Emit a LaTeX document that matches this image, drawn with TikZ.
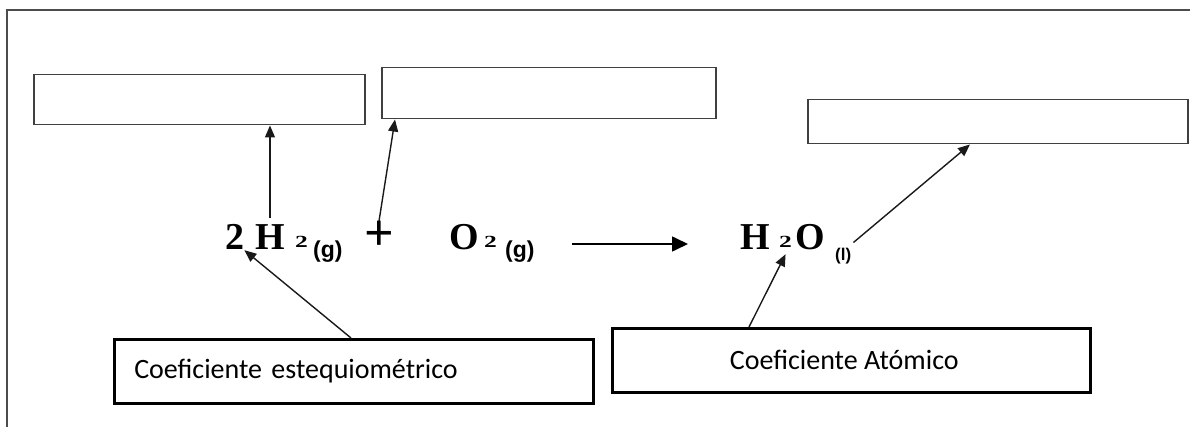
\documentclass[tikz,border=0pt]{standalone}
\usepackage{fontspec}
\setmainfont{Liberation Serif}
\newfontfamily\carlitofont{Carlito}
\newfontfamily\arialfont{Liberation Sans}
\usetikzlibrary{arrows.meta}
\begin{document}
\begin{tikzpicture}[x=1pt,y=-1pt,
  topbox/.style={draw=black!75, line width=1.5pt, inner sep=0, anchor=north west},
  lblbox/.style={draw=black, line width=2.5pt, anchor=north west, font=\carlitofont\fontsize{28}{32}\selectfont},
  big/.style={font=\bfseries\fontsize{38}{42}\selectfont, inner sep=0, anchor=base west},
  sub/.style={font=\bfseries\fontsize{17}{20}\selectfont, inner sep=0, anchor=base west},
  phase/.style={font=\arialfont\bfseries\fontsize{23}{26}\selectfont, inner sep=0, anchor=base west},
  phasesm/.style={font=\arialfont\bfseries\fontsize{17}{19}\selectfont, inner sep=0, anchor=base west},
  plusf/.style={font=\bfseries\fontsize{52}{60}\selectfont, inner sep=0},
  arr/.style={line width=1.4pt, draw=black!90, -{Triangle[length=12pt,width=10pt]}},
  rxn/.style={line width=1.6pt, draw=black, -{Triangle[length=16pt,width=15pt]}}
]
\useasboundingbox (0,0) rectangle (1190,427);
% outer frame
\draw[draw=black!70, line width=2pt] (1200,10) -- (7,10) -- (7,440);

% top empty boxes
\node[topbox, minimum width=331pt, minimum height=50pt] (b1) at (33,74) {};
\node[topbox, minimum width=334pt, minimum height=51pt] (b2) at (381,67) {};
\node[topbox, minimum width=380pt, minimum height=44pt] (b3) at (807,99) {};

% label boxes
\node[lblbox, minimum width=479pt, minimum height=64pt, text width=439pt, inner xsep=20pt, align=left] (b4) at (113,338) {Coeficiente estequiométrico};
\node[lblbox, minimum width=478pt, minimum height=64pt] (b5) at (611,327) {Coeficiente Atómico\hspace*{14pt}};

% equation
\node[big] (c2) at (225,250) {2};
\node[big] (h1) at (255,250) {H};
\node[sub] (s1) at (295,248) {\scalebox{1.5}[1]{2}};
\node[phase] (g1) at (313,258) {(g)};
\node[plusf] (plus) at (379,236) {+};
\node[big] (o1) at (449,250) {O};
\node[sub] (s2) at (484,248) {\scalebox{1.5}[1]{2}};
\node[phase] (g2) at (505,258) {(g)};
\coordinate (rs) at (572,244);
\coordinate (re) at (688,244);
\draw[rxn] (rs) -- (re);
\node[big] (h2) at (740,250) {H};
\node[sub] (s3) at (779,248) {\scalebox{1.5}[1]{2}};
\node[big] (o2) at (795,250) {O};
\node[phasesm] (l1) at (835,261) {(l)};

% connectors
\draw[arr] ([yshift=7pt]h1.north) -- (b1.south -| h1.north);
\draw[arr] (plus.north) -- ([xshift=14pt]b2.south west);
\draw[arr] ([xshift=2pt,yshift=6pt]l1.north east) -- ([xshift=163pt]b3.south west);
\draw[arr] ([xshift=238pt]b4.north west) -- (c2.south east);
\draw[arr] ([xshift=138pt]b5.north west) -- ([yshift=-6pt]s3.south);
\end{tikzpicture}
\end{document}
